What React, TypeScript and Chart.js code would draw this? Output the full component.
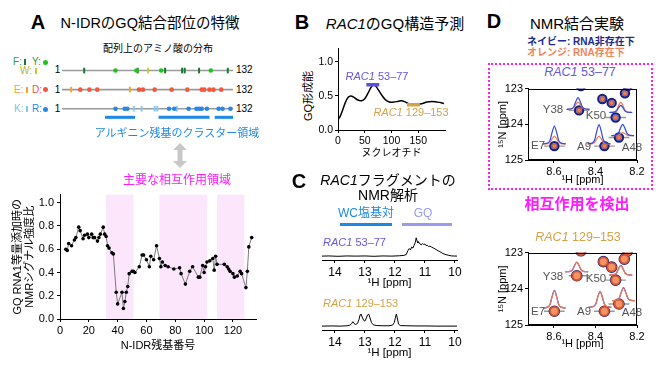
import React, { useEffect, useRef } from 'react';
import { Chart, registerables } from 'chart.js';
Chart.register(...registerables);

const FONT = '"Liberation Sans", Arial, "Noto Sans CJK JP", sans-serif';
Chart.defaults.font.family = FONT;

// ---------- Panel A: sequence distribution ----------
const pheResidues = [18, 59, 80, 93, 95, 106, 128];
const tyrResidues = [42, 58, 77, 115];
const trpResidues = [67];
const gluResidues = [8, 53];
const aspResidues = [15, 22, 28, 60, 63, 72, 85, 97, 108, 110, 114, 117, 123];
const lysResidues = [56, 62, 72, 74, 89];
const argResidues = [42, 49, 51, 83, 87, 98, 104, 106, 108, 112, 121, 124, 130];
const argClusters = [[34, 57], [75, 114], [118, 132]];

// ---------- Panel A: NMR signal ratio ----------
const residueNumbers = [
  4, 5, 6, 8, 10, 11, 13, 14, 16, 17,
  19, 20, 22, 23, 24, 26, 27, 28, 30, 31,
  32, 33, 34, 36, 37, 39, 40, 43, 44, 45,
  46, 47, 48, 50, 51, 52, 55, 57, 58, 60,
  62, 63, 65, 67, 69, 70, 71, 73, 75, 79,
  83, 84, 87, 90, 92, 96, 97, 99, 100, 101,
  102, 104, 106, 107, 108, 109, 114, 116, 117, 118,
  120, 121, 123, 125, 126, 129, 130, 131, 133,
];
const signalRatio = [
  0.60, 0.59, 0.65, 0.63, 0.68, 0.70, 0.79, 0.76, 0.69, 0.72,
  0.73, 0.70, 0.73, 0.70, 0.70, 0.67, 0.70, 0.73, 0.79, 0.73,
  0.71, 0.63, 0.61, 0.57, 0.56, 0.23, 0.13, 0.23, 0.09, 0.15,
  0.23, 0.28, 0.39, 0.41, 0.41, 0.40, 0.45, 0.55, 0.55, 0.51,
  0.45, 0.54, 0.51, 0.63, 0.52, 0.45, 0.49, 0.46, 0.45, 0.43,
  0.44, 0.39, 0.30, 0.41, 0.45, 0.36, 0.36, 0.46, 0.40, 0.45,
  0.49, 0.50, 0.52, 0.42, 0.54, 0.47, 0.47, 0.45, 0.43, 0.41,
  0.39, 0.36, 0.37, 0.41, 0.39, 0.27, 0.41, 0.62, 0.70,
];
const interactionRegions = [[32, 51], [69, 102], [109, 128]];
const mainXTicks = [0, 20, 40, 60, 80, 100, 120];
const mainYTicks = [0, 0.2, 0.4, 0.6, 0.8, 1.0];

// ---------- Panel B: GQ prediction ----------
const gqNucleotide = [0, 4, 9, 14, 19, 24, 30, 37, 44, 50, 56, 62, 67, 72, 77, 82, 88, 96, 104, 112, 119, 126, 134, 142, 150, 158, 166, 175, 185, 193, 198];
const gqPropensity = [0.15, 0.20, 0.30, 0.41, 0.48, 0.50, 0.48, 0.44, 0.43, 0.46, 0.54, 0.63, 0.67, 0.63, 0.57, 0.51, 0.45, 0.41, 0.41, 0.42, 0.43, 0.41, 0.38, 0.37, 0.38, 0.39, 0.41, 0.42, 0.41, 0.40, 0.39];
const fragment53 = [53, 77];
const fragment53Level = 0.665;
const fragment129 = [129, 153];
const fragment129Level = 0.37;
const gqXTicks = [0, 50, 100, 150];
const gqYTicks = [0, 0.5, 1.0];

// ---------- Panel C: 1D imino spectra ----------
const spec53Ppm = [14.43, 14.2, 13.9, 13.6, 13.3, 13.0, 12.7, 12.4, 12.1, 11.85, 11.7, 11.62, 11.57, 11.52, 11.48, 11.44, 11.4, 11.36, 11.32, 11.29, 11.26, 11.23, 11.2, 11.16, 11.12, 11.08, 11.04, 11.0, 10.96, 10.92, 10.88, 10.83, 10.78, 10.72, 10.66, 10.6, 10.5, 10.4, 10.3, 10.2, 10.1, 9.93];
const spec53Int = [0.01, 0.02, 0.0, 0.02, 0.01, 0.02, 0.0, 0.02, 0.01, 0.03, 0.05, 0.1, 0.3, 0.42, 0.35, 0.5, 0.45, 0.6, 0.75, 1.0, 0.82, 0.72, 0.76, 0.66, 0.62, 0.7, 0.64, 0.67, 0.58, 0.6, 0.53, 0.55, 0.5, 0.45, 0.4, 0.34, 0.25, 0.15, 0.09, 0.05, 0.02, 0.01];
const spec129Ppm = [14.43, 14.1, 13.8, 13.6, 13.5, 13.44, 13.4, 13.36, 13.31, 13.25, 13.2, 13.16, 13.13, 13.09, 13.04, 13.0, 12.95, 12.91, 12.87, 12.83, 12.78, 12.72, 12.6, 12.4, 12.2, 12.08, 12.02, 11.98, 11.95, 11.92, 11.88, 11.82, 11.6, 11.3, 11.0, 10.6, 10.3, 9.93];
const spec129Int = [0.01, 0.02, 0.01, 0.03, 0.06, 0.15, 0.25, 0.15, 0.1, 0.15, 0.35, 0.62, 0.66, 0.5, 0.32, 0.28, 0.45, 0.62, 0.66, 0.45, 0.2, 0.08, 0.04, 0.03, 0.03, 0.06, 0.2, 0.5, 0.66, 0.45, 0.12, 0.04, 0.03, 0.02, 0.02, 0.01, 0.01, 0.01];
const ppmTicks = [10, 11, 12, 13, 14];

// ---------- Panel D: HSQC ----------
const hsqc53H = [8.598, 8.357, 8.479, 8.303, 8.287, 8.367, 8.322, 8.258, 8.47, 8.245];
const hsqc53N = [124.61, 124.61, 123.61, 123.81, 124.37, 123.29, 123.40, 123.13, 122.93, 122.93];
const hsqc129H = [8.598, 8.357, 8.49, 8.303, 8.287, 8.362, 8.322, 8.261, 8.47, 8.245];
const hsqc129N = [124.62, 124.62, 123.64, 123.76, 124.42, 123.25, 123.40, 123.18, 122.95, 122.95];
const crossLineH = [8.598, 8.357, 8.479, 8.303, 8.287];
const slice53H = [8.598, 8.484, 8.383, 8.278, 8.269];
const slice53Base = [124.55, 123.58, 124.55, 123.67, 124.32];
const slice53Navy = [0.50, 0.33, 0.54, 0.20, 0.32];
const slice53Orange = [0.22, 0.20, 0.22, 0.29, 0.09];
const slice129H = [8.598, 8.49, 8.378, 8.278, 8.265];
const slice129Base = [124.53, 123.53, 124.51, 123.62, 124.33];
const slice129Navy = [0.49, 0.27, 0.44, 0.27, 0.36];
const slice129Orange = [0.47, 0.26, 0.43, 0.26, 0.35];
const sliceProfileOffset = [-0.055, -0.032, -0.021, -0.012, 0, 0.012, 0.021, 0.032, 0.055];
const sliceProfile = [0, 0.05, 0.2, 0.6, 1, 0.6, 0.2, 0.05, 0];
const hsqcHTicks = [8.2, 8.4, 8.6];
const hsqcNTicks = [123, 124, 125];

// ---------- helpers ----------
const NAVY = '#16207e';
const ORANGE_PEAK = '#ee8058';
const PURPLE = '#6657d8';
const GOLD = '#d6a246';
const MAGENTA = '#ff1aff';
const BLUE = '#1e88e5';

const setTicks = (vals: number[]) => (s: any) => { s.ticks = vals.map((v) => ({ value: v })); };

const axisCommon = (size: number, pad = 2, tl = 3) => ({
  grid: { display: true, drawOnChartArea: false, drawTicks: true, tickLength: tl, color: '#000', lineWidth: 1 },
  border: { display: true, color: '#000', width: 1 },
  ticks: { font: { size, family: FONT }, color: '#000', padding: pad, maxRotation: 0, autoSkip: false } as any,
});

const baseOptions = (padding: any) => ({
  responsive: false,
  animation: false as const,
  events: [] as any[],
  layout: { padding },
  plugins: { legend: { display: false }, tooltip: { enabled: false } },
});

const shadePlugin = {
  id: 'shade',
  beforeDatasetsDraw(chart: any) {
    const { ctx, chartArea: a, scales } = chart;
    ctx.save();
    ctx.fillStyle = '#fce6fc';
    interactionRegions.forEach(([s, e]) => {
      const x1 = scales.x.getPixelForValue(s);
      const x2 = scales.x.getPixelForValue(e);
      ctx.fillRect(x1, a.top, x2 - x1, a.bottom - a.top);
    });
    ctx.restore();
  },
};

const framePlugin = {
  id: 'frame',
  afterDraw(chart: any) {
    const { ctx, chartArea: a } = chart;
    ctx.save();
    ctx.strokeStyle = '#000';
    ctx.lineWidth = 1;
    ctx.strokeRect(Math.round(a.left) + 0.5, Math.round(a.top) + 0.5, Math.round(a.right - a.left) - 1, Math.round(a.bottom - a.top) - 1);
    ctx.restore();
  },
};

// ---------- configs ----------
const rowLine = (row: number) => ({
  data: [{ x: 1, y: row }, { x: 132, y: row }], showLine: true, borderColor: '#9a9a9a', borderWidth: 1.6, pointRadius: 0, order: 10,
});
const barMarkers = (res: number[], row: number, color: string) => ({
  data: res.map((r) => ({ x: r, y: row })), showLine: false, pointStyle: 'line', pointRotation: 90, pointRadius: 2.8,
  pointBorderColor: color, pointBorderWidth: 2, clip: false, order: 2,
});
const dotMarkers = (res: number[], row: number, color: string) => ({
  data: res.map((r) => ({ x: r, y: row })), showLine: false, pointStyle: 'circle', pointRadius: 2.3,
  pointBackgroundColor: color, pointBorderWidth: 0, clip: false, order: 1,
});

const seqConfig: any = {
  type: 'scatter',
  data: {
    datasets: [
      rowLine(0), rowLine(1), rowLine(2),
      ...argClusters.map(([s, e]) => ({ data: [{ x: s, y: 2.45 }, { x: e, y: 2.45 }], showLine: true, borderColor: BLUE, borderWidth: 3, pointRadius: 0, clip: false })),
      barMarkers(pheResidues, 0, '#177a2c'),
      dotMarkers(tyrResidues, 0, '#1fc41f'),
      barMarkers(trpResidues, 0, '#c9c935'),
      barMarkers(gluResidues, 1, '#f5a623'),
      dotMarkers(aspResidues, 1, '#f4583c'),
      barMarkers(lysResidues, 2, '#86c9f2'),
      dotMarkers(argResidues, 2, '#2a86e6'),
    ],
  },
  options: {
    ...baseOptions({ left: 62, right: 29, top: 5, bottom: 5 }),
    scales: {
      x: { type: 'linear', display: false, min: 1, max: 132 },
      y: { type: 'linear', display: false, min: -0.5, max: 2.8, reverse: true },
    },
  },
};

const mainConfig: any = {
  type: 'scatter',
  data: {
    datasets: [{
      data: residueNumbers.map((r, i) => ({ x: r, y: signalRatio[i] })),
      showLine: true, borderColor: '#7a7a7a', borderWidth: 1, pointRadius: 1.8,
      pointBackgroundColor: '#000', pointBorderWidth: 0, clip: false,
    }],
  },
  options: {
    ...baseOptions({ top: 8, right: 6, left: 0, bottom: 0 }),
    scales: {
      x: {
        type: 'linear', min: 0, max: 136, ...axisCommon(11, 2, 3),
        afterBuildTicks: setTicks(mainXTicks), afterFit: (s: any) => { s.height = 36; },
        title: { display: true, text: 'N-IDR残基番号', font: { size: 11, family: FONT }, color: '#000', padding: { top: 0, bottom: 2 } },
      },
      y: {
        type: 'linear', min: 0, max: 1.07, ...axisCommon(11, 3, 3),
        ticks: { ...axisCommon(11, 3, 3).ticks, callback: (v: number) => v.toFixed(1) },
        afterBuildTicks: setTicks(mainYTicks), afterFit: (s: any) => { s.width = 60; },
        title: { display: true, text: ['GQ RNA1等量添加時の', 'NMRシグナル強度比'], font: { size: 11, family: FONT, lineHeight: 1.1 }, color: '#000', padding: { top: 12, bottom: 0 } },
      },
    },
  },
  plugins: [shadePlugin],
};

const gqConfig: any = {
  type: 'scatter',
  data: {
    datasets: [
      { data: [{ x: fragment53[0], y: fragment53Level }, { x: fragment53[1], y: fragment53Level }], showLine: true, borderColor: '#5a4fdc', borderWidth: 3.5, pointRadius: 0, order: 1 },
      { data: [{ x: fragment129[0], y: fragment129Level }, { x: fragment129[1], y: fragment129Level }], showLine: true, borderColor: GOLD, borderWidth: 3.5, pointRadius: 0, order: 1 },
      { data: gqNucleotide.map((n, i) => ({ x: n, y: gqPropensity[i] })), showLine: true, borderColor: '#000', borderWidth: 1.5, pointRadius: 0, tension: 0.35, order: 2 },
    ],
  },
  options: {
    ...baseOptions({ top: 6, right: 5, left: 0, bottom: 0 }),
    scales: {
      x: {
        type: 'linear', min: 0, max: 200, ...axisCommon(10.5, 2, 3),
        afterBuildTicks: setTicks(gqXTicks), afterFit: (s: any) => { s.height = 35; },
        title: { display: true, text: 'ヌクレオチド', font: { size: 10, family: FONT }, color: '#000', padding: { top: 0, bottom: 6 } },
      },
      y: {
        type: 'linear', min: 0, max: 1.2, ...axisCommon(10.5, 2, 3),
        ticks: { ...axisCommon(10.5, 2, 3).ticks, callback: (v: number) => v.toFixed(1) },
        afterBuildTicks: setTicks(gqYTicks), afterFit: (s: any) => { s.width = 38; },
      },
    },
  },
};

const specConfig = (ppm: number[], inten: number[]): any => ({
  type: 'scatter',
  data: {
    datasets: [{ data: ppm.map((p, i) => ({ x: p, y: inten[i] })), showLine: true, borderColor: '#000', borderWidth: 1, pointRadius: 0, clip: false }],
  },
  options: {
    ...baseOptions({ top: 0, right: 13, left: 22, bottom: 0 }),
    scales: {
      x: {
        type: 'linear', min: 9.93, max: 14.43, reverse: true, ...axisCommon(12, 2, 3),
        afterBuildTicks: setTicks(ppmTicks), afterFit: (s: any) => { s.height = 32; },
        title: { display: true, text: '¹H [ppm]', font: { size: 11.5, family: FONT }, color: '#000', padding: { top: 0, bottom: 2 } },
      },
      y: { type: 'linear', display: false, min: -0.2, max: 1.1 },
    },
  },
});

const sliceDataset = (h: number, base: number, height: number, color: string, order: number) => ({
  data: sliceProfileOffset.map((o, i) => ({ x: h + o, y: base - height * sliceProfile[i] })),
  showLine: true, borderColor: color, borderWidth: 1.2, pointRadius: 0, tension: 0.3, clip: false, order,
});

const hsqcConfig = (
  peakH: number[], peakN: number[], sH: number[], sBase: number[], sNavy: number[], sOrange: number[], bound: boolean,
): any => ({
  type: 'scatter',
  data: {
    datasets: [
      ...sH.map((h, i) => sliceDataset(h, sBase[i], sOrange[i], '#f07a50', bound ? 1 : 1)),
      ...sH.map((h, i) => sliceDataset(h, sBase[i], sNavy[i], '#2f4ae0', bound ? 2 : 0)),
      {
        data: peakH.map((h, i) => ({ x: h, y: peakN[i] })), showLine: false, pointStyle: 'circle',
        pointRadius: bound ? 4.3 : 2.2, pointBackgroundColor: bound ? '#f29466' : ORANGE_PEAK,
        pointBorderColor: bound ? '#d9542c' : '#c85a38', pointBorderWidth: bound ? 1.8 : 1, clip: 0, order: 3,
      },
      {
        data: peakH.map((h, i) => ({ x: h, y: peakN[i] })), showLine: false, pointStyle: 'circle',
        pointRadius: bound ? 4.8 : 4.2, pointBackgroundColor: '#7c84c8', pointBorderColor: NAVY, pointBorderWidth: 2, clip: 0, order: 4,
      },
      ...crossLineH.map((h, i) => ({
        data: [{ x: h + 0.05, y: peakN[i] }, { x: h - 0.05, y: peakN[i] }], showLine: true,
        borderColor: '#9a9a9a', borderWidth: 1.3, pointRadius: 0, clip: 0, order: 5,
      })),
    ],
  },
  options: {
    ...baseOptions({ top: 6, right: 8, left: 0, bottom: 0 }),
    scales: {
      x: {
        type: 'linear', min: 8.2, max: 8.725, reverse: true, ...axisCommon(11, 2, 3),
        ticks: { ...axisCommon(11, 2, 3).ticks, callback: (v: number) => v.toFixed(1) },
        afterBuildTicks: setTicks(hsqcHTicks), afterFit: (s: any) => { s.height = bound ? 27 : 28; },
        title: { display: true, text: '¹H [ppm]', font: { size: 11, family: FONT }, color: '#000', padding: { top: 0, bottom: 1.4 } },
      },
      y: {
        type: 'linear', min: 123, max: 125, reverse: true, ...axisCommon(11, 2, 3),
        afterBuildTicks: setTicks(hsqcNTicks), afterFit: (s: any) => { s.width = 33; },
        title: { display: true, text: '¹⁵N [ppm]', font: { size: 11, family: FONT }, color: '#000', padding: { top: 1.5, bottom: 0 } },
      },
    },
  },
  plugins: [framePlugin],
});

// ---------- components ----------
function ChartBox({ left, top, width, height, config }: any) {
  const ref = useRef<HTMLCanvasElement>(null);
  useEffect(() => {
    const c = new Chart(ref.current as HTMLCanvasElement, config);
    return () => c.destroy();
  }, []);
  return <canvas ref={ref} width={width} height={height} style={{ position: 'absolute', left, top, width, height }} />;
}

function T({ x, y, size, color = '#000', bold = false, anchor = 'center', rotate = 0, children, style = {} }: any) {
  const tx = anchor === 'center' ? '-50%' : anchor === 'left' ? '0' : '-100%';
  return (
    <div style={{
      position: 'absolute', left: x, top: y, transform: `translate(${tx}, -50%) rotate(${rotate}deg)`,
      fontSize: size, color, fontWeight: bold ? 700 : 400, whiteSpace: 'nowrap', lineHeight: 1, fontFamily: FONT, ...style,
    }}>{children}</div>
  );
}

const I = ({ children }: any) => <span style={{ fontStyle: 'italic' }}>{children}</span>;

function Mark({ x, y, color, type }: any) {
  const s = type === 'bar'
    ? { width: 2, height: 6, left: x - 1, top: y - 3 }
    : { width: 5, height: 5, left: x - 2.5, top: y - 2.5, borderRadius: '50%' };
  return <div style={{ position: 'absolute', background: color, ...s }} />;
}

export default function App() {
  const rowsY = [70, 89.5, 109];
  return (
    <div style={{ position: 'absolute', left: 0, top: 0, width: 670, height: 372, background: '#fff', overflow: 'hidden', fontFamily: FONT }}>
      {/* Panel A */}
      <T x={38} y={22} size={20} bold>A</T>
      <T x={150} y={23} size={14.5}>N-IDRのGQ結合部位の特徴</T>
      <T x={158} y={49} size={10}>配列上のアミノ酸の分布</T>

      <T x={13} y={62} size={10} anchor="left" color="#2ca02c">F:</T>
      <Mark x={25} y={62} color="#177a2c" type="bar" />
      <T x={32} y={62} size={10} anchor="left" color="#2ca02c">Y:</T>
      <Mark x={45} y={62} color="#1fc41f" type="dot" />
      <T x={20} y={71} size={10} anchor="left" color="#b5b52a">W:</T>
      <Mark x={36} y={71} color="#c9c935" type="bar" />
      <T x={14} y={89.5} size={10} anchor="left" color="#f5a623">E:</T>
      <Mark x={27} y={89.5} color="#f5a623" type="bar" />
      <T x={32} y={89.5} size={10} anchor="left" color="#f4583c">D:</T>
      <Mark x={45} y={89.5} color="#f4583c" type="dot" />
      <T x={14} y={109} size={10} anchor="left" color="#7cc2ee">K:</T>
      <Mark x={27} y={109} color="#86c9f2" type="bar" />
      <T x={32} y={109} size={10} anchor="left" color="#2a86e6">R:</T>
      <Mark x={45} y={109} color="#2a86e6" type="dot" />
      {rowsY.map((y) => <T key={'a' + y} x={57.5} y={y} size={10}>1</T>)}
      {rowsY.map((y) => <T key={'b' + y} x={236} y={y} size={10} anchor="left">132</T>)}

      <ChartBox left={0} top={55} width={262} height={75} config={seqConfig} />

      <T x={177} y={133} size={11} color={BLUE}>アルギニン残基のクラスター領域</T>
      <svg style={{ position: 'absolute', left: 172, top: 143 }} width={16} height={25}>
        <polygon points="8,0 15,7 10.5,7 10.5,18 15,18 8,25 1,18 5.5,18 5.5,7 1,7" fill="#c8c8c8" />
      </svg>
      <T x={177} y={180} size={12} color={MAGENTA}>主要な相互作用領域</T>

      <ChartBox left={0} top={185} width={262} height={170} config={mainConfig} />

      {/* Panel B */}
      <T x={302} y={22} size={20} bold>B</T>
      <T x={395} y={23} size={15}><I>RAC1</I>のGQ構造予測</T>
      <T x={308} y={96} size={11} rotate={-90}>GQ形成能</T>
      <ChartBox left={300} top={40} width={150} height={125} config={gqConfig} />
      <T x={377} y={76} size={11} color={PURPLE}><I>RAC1</I> 53–77</T>
      <T x={411} y={112} size={11} color={GOLD}><I>RAC1</I> 129–153</T>

      {/* Panel C */}
      <T x={299} y={181} size={20} bold>C</T>
      <T x={388} y={180} size={14}><I>RAC1</I>フラグメントの</T>
      <T x={388} y={195} size={14}>NMR解析</T>
      <T x={366} y={213} size={12} color={BLUE}>WC塩基対</T>
      <div style={{ position: 'absolute', left: 340, top: 222.5, width: 52, height: 3, background: BLUE }} />
      <T x={423} y={213} size={12} color="#9a9af0">GQ</T>
      <div style={{ position: 'absolute', left: 402, top: 222.5, width: 50, height: 3, background: '#9a9af0' }} />
      <T x={323} y={242} size={11} anchor="left" color={PURPLE}><I>RAC1</I> 53–77</T>
      <ChartBox left={300} top={236} width={170} height={56} config={specConfig(spec53Ppm, spec53Int)} />
      <T x={323} y={303} size={11} anchor="left" color={GOLD}><I>RAC1</I> 129–153</T>
      <ChartBox left={300} top={306} width={170} height={56} config={specConfig(spec129Ppm, spec129Int)} />

      {/* Panel D */}
      <T x={494} y={21} size={20} bold>D</T>
      <T x={577} y={23} size={15}>NMR結合実験</T>
      <T x={527} y={42} size={10} anchor="left" color="#1c2a8c" bold>ネイビー: RNA非存在下</T>
      <T x={527} y={53} size={10} anchor="left" color="#f08458" bold>オレンジ: RNA存在下</T>
      <div style={{ position: 'absolute', left: 488, top: 63, width: 165, height: 127, border: `2px dotted ${MAGENTA}`, boxSizing: 'border-box' }} />
      <T x={580} y={72} size={12.5} color={PURPLE}><I>RAC1</I> 53–77</T>
      <ChartBox left={495} top={80} width={150} height={108}
        config={hsqcConfig(hsqc53H, hsqc53N, slice53H, slice53Base, slice53Navy, slice53Orange, false)} />
      <T x={538} y={146} size={11.5} color="#555">E7</T>
      <T x={553} y={110} size={11.5} color="#555">Y38</T>
      <T x={596} y={116} size={11.5} color="#555">K50</T>
      <T x={584} y={147} size={11.5} color="#555">A9</T>
      <T x={632} y={148} size={11.5} color="#555">A48</T>

      <T x={577} y={203} size={15} bold color={MAGENTA}>相互作用を検出</T>
      <T x={578} y={237} size={12.5} color={GOLD}><I>RAC1</I> 129–153</T>
      <ChartBox left={495} top={244} width={150} height={108}
        config={hsqcConfig(hsqc129H, hsqc129N, slice129H, slice129Base, slice129Navy, slice129Orange, true)} />
      <T x={538} y={312} size={11.5} color="#555">E7</T>
      <T x={553} y={277} size={11.5} color="#555">Y38</T>
      <T x={596} y={279} size={11.5} color="#555">K50</T>
      <T x={584} y={312} size={11.5} color="#555">A9</T>
      <T x={632} y={313} size={11.5} color="#555">A48</T>
    </div>
  );
}
